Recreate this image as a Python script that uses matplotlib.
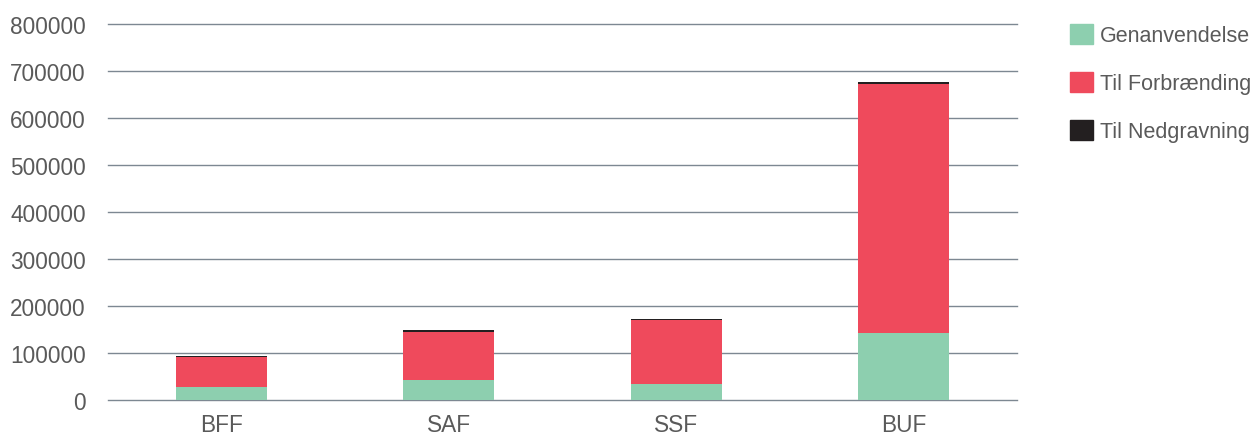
import matplotlib
matplotlib.use("Agg")
import matplotlib.pyplot as plt
from matplotlib.patches import Patch

# ----- Data -----
categories    = ["BFF", "SAF", "SSF", "BUF"]
genanvendelse = [28500, 42500, 34000, 142000]
forbraending  = [62500, 103000, 137000, 531000]
nedgravning   = [2500, 2500, 2000, 3000]
series_names  = ["Genanvendelse", "Til Forbrænding", "Til Nedgravning"]
yticks        = [0, 100000, 200000, 300000, 400000, 500000, 600000, 700000, 800000]
# ----------------

GREEN = "#8dcfaf"
RED   = "#ef4a5c"
BLACK = "#231f20"
GRID  = "#7d8892"
TEXT  = "#5a5a5a"

plt.rcParams['font.family'] = ['Liberation Sans', 'DejaVu Sans']

fig = plt.figure(figsize=(12.56, 4.35), dpi=100)
ax = fig.add_axes([0.086, 0.078, 0.7237, 0.8645])

x = list(range(len(categories)))
w = 0.4
bottom2 = [a + b for a, b in zip(genanvendelse, forbraending)]
ax.bar(x, genanvendelse, w, color=GREEN, zorder=3)
ax.bar(x, forbraending, w, bottom=genanvendelse, color=RED, zorder=3)
ax.bar(x, nedgravning, w, bottom=bottom2, color=BLACK, zorder=3)

ax.set_xlim(-0.5, len(categories) - 0.5)
ax.set_ylim(0, 800000)
ax.set_yticks(yticks)
ax.set_yticklabels([str(v) for v in yticks])
ax.set_xticks(x)
ax.set_xticklabels(categories)
ax.yaxis.grid(True, color=GRID, linewidth=1.0, zorder=0)
for gl in ax.get_ygridlines():
    gl.set_clip_on(False)
ax.set_axisbelow(True)
for s in ax.spines.values():
    s.set_visible(False)
ax.tick_params(axis='both', length=0, labelsize=16.3, colors=TEXT)
ax.tick_params(axis='y', pad=16)
ax.tick_params(axis='x', pad=9)

handles = [Patch(color=c) for c in (GREEN, RED, BLACK)]
fig.legend(handles, series_names, loc='upper left', bbox_to_anchor=(0.840, 0.978),
           frameon=False, fontsize=15.5, labelcolor=TEXT, handlelength=1.05,
           handleheight=1.05, handletextpad=0.35, labelspacing=1.2, borderpad=0.2)

fig.savefig("out.png", dpi=100)
